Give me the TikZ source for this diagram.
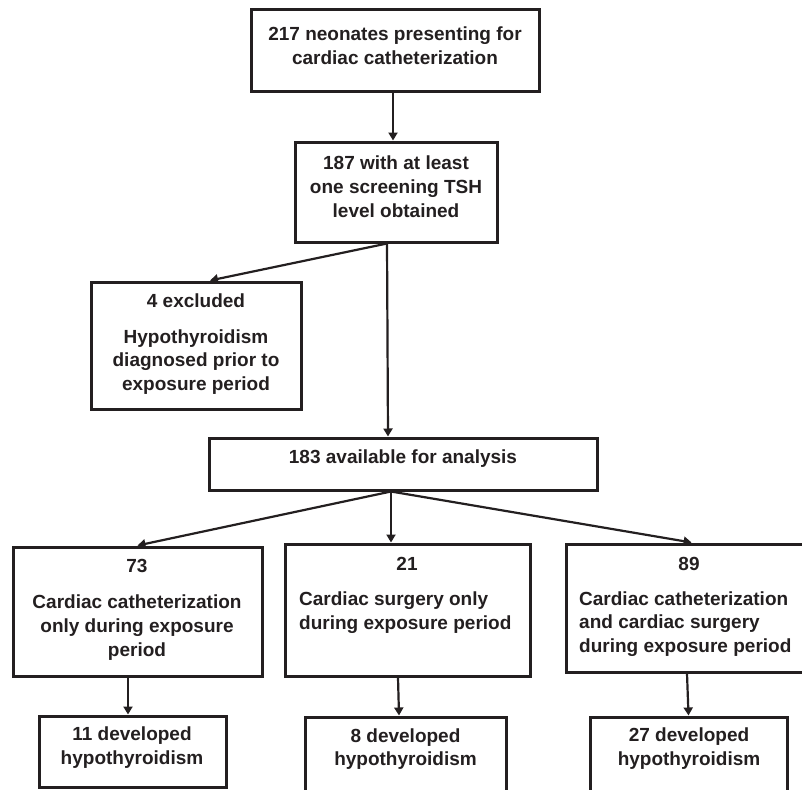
\documentclass[tikz,border=0pt]{standalone}
\usepackage{fontspec}
\setmainfont{Liberation Sans}
\usetikzlibrary{arrows.meta}
\definecolor{ink}{HTML}{231F20}
\begin{document}
\begin{tikzpicture}[x=1pt,y=-1pt,
  box/.style={draw=ink,line width=3pt,inner sep=0pt,rectangle},
  txt/.style={inner sep=0pt,text=ink,font=\fontsize{19}{23.8}\selectfont\bfseries},
  arr/.style={draw=ink,line width=2.2pt,-{Triangle[length=8pt,width=9pt]}}]
\useasboundingbox (0,0) rectangle (802,789);
% boxes
\node[box,minimum width=288pt,minimum height=82pt] (top) at (395,51) {};
\node[box,minimum width=202pt,minimum height=100pt] (tsh) at (396,192) {};
\node[box,minimum width=210pt,minimum height=127pt] (excl) at (196,345.5) {};
\node[box,minimum width=388pt,minimum height=52pt] (avail) at (403,464) {};
\node[box,minimum width=249pt,minimum height=129pt] (cath) at (137.5,611.5) {};
\node[box,minimum width=245pt,minimum height=132pt] (surg) at (407.5,610) {};
\node[box,minimum width=244pt,minimum height=128pt] (both) at (688,608) {};
\node[box,minimum width=187pt,minimum height=71pt] (rcath) at (132.5,751.5) {};
\node[box,minimum width=201pt,minimum height=75pt] (rsurg) at (405.5,754.5) {};
\node[box,minimum width=197pt,minimum height=75pt] (rboth) at (688.5,754.5) {};
% texts
\node[txt,align=center] (ttop) at (395,46) {217 neonates presenting for\\cardiac catheterization};
\node[txt,align=center] (ttsh) at (396,187) {187 with at least\\one screening TSH\\level obtained};
\node[txt] (texclA) at (196,301) {4 excluded};
\node[txt,align=center] (texclB) at (196,362) {Hypothyroidism\\diagnosed prior to\\exposure period};
\node[txt] (tavail) at (403,459) {183 available for analysis};
\node[txt] (tcathA) at (137,566) {73};
\node[txt,align=center] (tcathB) at (137,627.5) {Cardiac catheterization\\only during exposure\\period};
\node[txt] (tsurgA) at (407,564) {21};
\node[txt,align=left,anchor=west] (tsurgB) at (299,613) {Cardiac surgery only\\during exposure period};
\node[txt] (tbothA) at (689,564) {89};
\node[txt,align=left,anchor=west] (tbothB) at (579,624) {Cardiac catheterization\\and cardiac surgery\\during exposure period};
\node[txt,align=center] (trcath) at (132,747.5) {11 developed\\hypothyroidism};
\node[txt,align=center] (trsurg) at (405.5,749) {8 developed\\hypothyroidism};
\node[txt,align=center] (trboth) at (689,748.5) {27 developed\\hypothyroidism};
% connectors
\draw[arr] ([xshift=-2pt]top.south) -- ([xshift=-3pt]tsh.north);
\draw[arr] ([xshift=-9pt]tsh.south) -- ([xshift=14pt]excl.north);
\draw[arr] ([xshift=-9pt]tsh.south) -- ([xshift=-15pt]avail.north);
\draw[arr] ([xshift=-12pt]avail.south) -- (cath.north);
\draw[arr] ([xshift=-12pt]avail.south) -- ([xshift=-16.5pt]surg.north);
\draw[arr] ([xshift=-12pt]avail.south) -- ([xshift=3.6pt]both.north);
\draw[arr] ([xshift=-9.5pt]cath.south) -- ([xshift=-4.5pt]rcath.north);
\draw[arr] ([xshift=-9.5pt]surg.south) -- ([xshift=-6.5pt]rsurg.north);
\draw[arr] ([xshift=-1pt]both.south) -- (rboth.north);
\end{tikzpicture}
\end{document}
